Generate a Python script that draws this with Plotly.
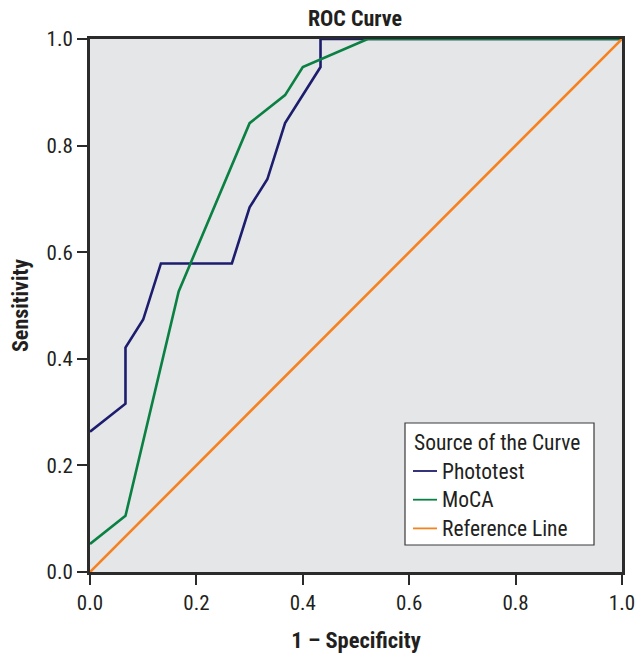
import plotly.graph_objects as go

# ---- data ----
photo_x = [0.0, 0.0667, 0.0667, 0.1, 0.1333, 0.2667, 0.3, 0.3333, 0.3667, 0.4333, 0.4333, 1.0]
photo_y = [0.2632, 0.3158, 0.4211, 0.4737, 0.5789, 0.5789, 0.6842, 0.7368, 0.8421, 0.9474, 1.0, 1.0]
moca_x = [0.0, 0.0667, 0.1667, 0.3, 0.3667, 0.4, 0.522, 1.0]
moca_y = [0.0526, 0.1053, 0.5263, 0.8421, 0.8947, 0.9474, 1.0, 1.0]
ref_x = [0.0, 1.0]
ref_y = [0.0, 1.0]
tick_vals = [0.0, 0.2, 0.4, 0.6, 0.8, 1.0]
tick_text = ["0.0", "0.2", "0.4", "0.6", "0.8", "1.0"]
series_names = ["Phototest", "MoCA", "Reference Line"]
series_colors = ["#1d1d6e", "#0a8043", "#f58220"]

FONT = "Liberation Sans Narrow, Roboto Condensed, Arial Narrow, Liberation Sans, Arial"
TXT = "#231f20"

L, R, T, B = 90, 622, 39, 572
W, H = 644, 654

fig = go.Figure()
for xs, ys, nm, col in zip([photo_x, moca_x, ref_x], [photo_y, moca_y, ref_y], series_names, series_colors):
    fig.add_trace(go.Scatter(x=xs, y=ys, mode="lines", name=nm,
                             line=dict(color=col, width=2.6), showlegend=False))

axis_common = dict(range=[0, 1], tickvals=tick_vals, ticktext=tick_text,
                   showgrid=False, zeroline=False, showline=True, mirror=True,
                   linecolor="#2b2b2b", linewidth=3, ticks="outside", ticklen=10,
                   tickwidth=2, tickcolor="#2b2b2b",
                   tickfont=dict(size=21, color=TXT, family=FONT))

fig.update_layout(
    width=W, height=H,
    margin=dict(l=L, r=W - R, t=T, b=H - B, autoexpand=False),
    paper_bgcolor="white", plot_bgcolor="#e5e6e8",
    font=dict(family=FONT, color=TXT),
    title=dict(text="<b>ROC Curve</b>", x=355 / W, xanchor="center",
               y=1 - 18 / H, yanchor="middle", font=dict(size=22, color=TXT, family=FONT)),
    xaxis=dict(**axis_common, title=dict(text="<b>1 – Specificity</b>", standoff=19,
                                         font=dict(size=22.5, color=TXT, family=FONT))),
    yaxis=dict(**axis_common, title=dict(text="<b>Sensitivity</b>", standoff=12,
                                         font=dict(size=22, color=TXT, family=FONT))),
)

# ---- legend box (manual) ----
def px(xp):
    return (xp - L) / (R - L)

def py(yp):
    return (B - yp) / (B - T)

fig.add_shape(type="rect", xref="paper", yref="paper",
              x0=px(405), x1=px(594), y0=py(545), y1=py(423),
              fillcolor="white", line=dict(color="#3a3a3a", width=1.2), layer="above")
fig.add_annotation(x=px(412), y=py(442), xref="paper", yref="paper", text="Source of the Curve",
                   showarrow=False, xanchor="left", yanchor="middle",
                   font=dict(size=21.5, color=TXT, family=FONT))
for i, (nm, col) in enumerate(zip(series_names, series_colors)):
    yy = 471 + i * 28.7
    fig.add_shape(type="line", xref="paper", yref="paper",
                  x0=px(413), x1=px(437), y0=py(yy), y1=py(yy),
                  line=dict(color=col, width=1.8), layer="above")
    fig.add_annotation(x=px(440), y=py(yy), xref="paper", yref="paper", text=nm,
                       showarrow=False, xanchor="left", yanchor="middle",
                       font=dict(size=21.5, color=TXT, family=FONT))

fig.write_html("out.html", config={"displayModeBar": False},
               post_script="document.body.style.margin='0';")
